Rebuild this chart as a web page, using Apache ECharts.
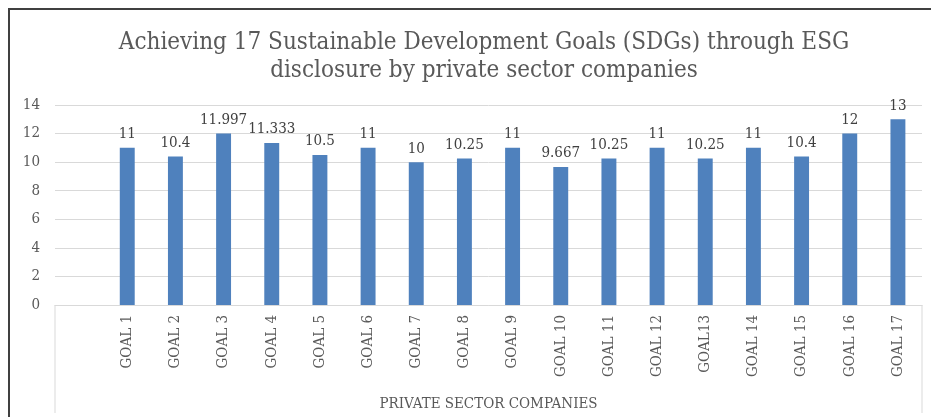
<!DOCTYPE html>
<html>
<head>
<meta charset="utf-8">
<script src="https://cdn.jsdelivr.net/npm/echarts@6/dist/echarts.min.js"></script>
<style>html,body{margin:0;padding:0;background:#fff}#c{width:931px;height:417px}</style>
</head>
<body>
<div id="c"></div>
<script>
const categories = ['', 'GOAL 1', 'GOAL 2', 'GOAL 3', 'GOAL 4', 'GOAL 5', 'GOAL 6', 'GOAL 7', 'GOAL 8', 'GOAL 9', 'GOAL 10', 'GOAL 11', 'GOAL 12', 'GOAL13', 'GOAL 14', 'GOAL 15', 'GOAL 16', 'GOAL 17'];
const values = [null, 11, 10.4, 11.997, 11.333, 10.5, 11, 10, 10.25, 11, 9.667, 10.25, 11, 10.25, 11, 10.4, 12, 13];
const yTicks = [0, 2, 4, 6, 8, 10, 12, 14];
const titleText = 'Achieving 17 Sustainable Development Goals (SDGs) through ESG\ndisclosure by private sector companies';
const groupLabel = 'PRIVATE SECTOR COMPANIES';

const FONT = '"DejaVu Serif Condensed", "DejaVu Serif", serif';
const chart = echarts.init(document.getElementById('c'));
const gridLeft = 55, gridRight = 9, gridTop = 105, gridBottom = 112;
chart.setOption({
  animation: false,
  title: {
    text: titleText, left: 479, top: 24, textAlign: 'center',
    textStyle: { fontFamily: FONT, fontSize: 24, fontWeight: 'normal', color: '#595959', lineHeight: 28 }
  },
  grid: { left: gridLeft, right: gridRight, top: gridTop, bottom: gridBottom, containLabel: false },
  xAxis: {
    type: 'category', data: categories,
    axisLine: { lineStyle: { color: '#D9D9D9', width: 1 } },
    axisTick: { show: false },
    axisLabel: { rotate: 90, interval: 0, margin: 10, fontFamily: FONT, fontSize: 15, color: '#595959' },
    name: groupLabel, nameLocation: 'middle', nameGap: 92,
    nameTextStyle: { fontFamily: FONT, fontSize: 15, color: '#595959' }
  },
  yAxis: {
    type: 'value', min: yTicks[0], max: yTicks[yTicks.length - 1], interval: 2,
    axisLine: { show: false }, axisTick: { show: false },
    axisLabel: { margin: 15, fontFamily: FONT, fontSize: 15, color: '#595959' },
    splitLine: { lineStyle: { color: '#D9D9D9', width: 1 } }
  },
  series: [{
    type: 'bar', data: values, barWidth: '31%',
    itemStyle: { color: '#4F81BD' },
    label: { show: true, position: 'top', distance: 6, fontFamily: FONT, fontSize: 15, color: '#404040' }
  }],
  graphic: [
    { type: 'line', shape: { x1: gridLeft, y1: 417 - gridBottom, x2: gridLeft, y2: 413 }, style: { stroke: '#D9D9D9', lineWidth: 1 } },
    { type: 'line', shape: { x1: 931 - gridRight, y1: 417 - gridBottom, x2: 931 - gridRight, y2: 413 }, style: { stroke: '#D9D9D9', lineWidth: 1 } },
    { type: 'rect', shape: { x: 9, y: 9, width: 1000, height: 500 }, style: { fill: 'none', stroke: '#404040', lineWidth: 2 } }
  ]
});
</script>
</body>
</html>
